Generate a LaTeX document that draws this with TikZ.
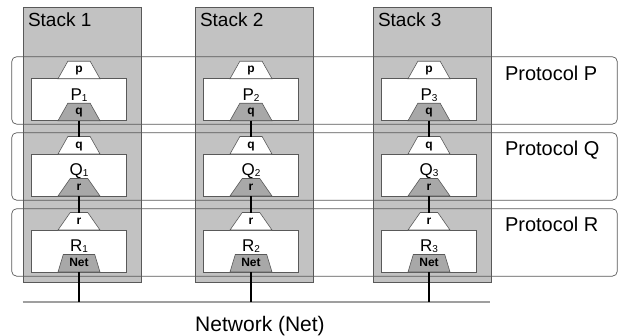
\documentclass[tikz,border=0pt]{standalone}
\usepackage{fontspec}
\setmainfont{Liberation Sans}
\usepackage{tikz}
\usetikzlibrary{shapes.geometric,positioning}
\definecolor{stackgray}{gray}{0.76}
\definecolor{portgray}{gray}{0.66}
\newcommand{\lname}[2]{#1\raisebox{-1pt}{\fontsize{10}{10}\selectfont #2}}

\begin{document}
\begin{tikzpicture}[x=1pt,y=-1pt]
	\tikzstyle{every node} = [inner sep=0, outer sep=0]
	\tikzstyle{stackbox} = [fill=stackgray, draw=black!65, line width=0.6pt]
	\tikzstyle{frame} = [draw=black!65, rounded corners=5pt, line width=0.7pt]
	\tikzstyle{layer} = [rectangle, draw=black!65, fill=white, line width=0.6pt, minimum width=95pt, text height=21.3pt, text depth=20.7pt, font=\fontsize{17}{17}\selectfont]
	\tikzstyle{port} = [trapezium, trapezium angle=72, trapezium stretches=true, minimum width=42pt, minimum height=17.5pt, draw=black!65, line width=0.6pt, font=\fontsize{12}{12}\selectfont\bfseries, text height=8pt, text depth=2pt]
	\tikzstyle{upport} = [port, fill=white]
	\tikzstyle{dnport} = [port, fill=portgray]
	\tikzstyle{title} = [anchor=base west, font=\fontsize{19}{19}\selectfont]
	\tikzstyle{wire} = [line width=1.5pt]
	\useasboundingbox (0,0) rectangle (618,335);
\foreach \i/\x in {1/79, 2/251, 3/429} {
	\path[stackbox] (\x-56, 7.3) rectangle (\x+62, 282.7);
	\node[title] (stack\i) at (\x-51, 26.7) {Stack \i};
}
\foreach \L/\y/\b in {P/56.7/80, Q/132.7/155.5, R/208.7/231} {
	\path[frame] (11.7, \y) rectangle (617.3, \y+67.5);
	\node[title, font=\fontsize{20}{20}\selectfont] (prot\L) at (505, \b) {Protocol \L};
}
\coordinate (netW) at (22.7, 302);
\coordinate (netE) at (490, 302);
	\path[draw, gray!75, line width=1.2pt] (netW) -- (netE);
\node[anchor=base, font=\fontsize{21}{21}\selectfont] (network) at (260, 331) {Network (Net)};
\foreach \i/\x in {1/79, 2/251, 3/429} {
	\foreach \L/\u/\d/\y in {P/p/q/78.7, Q/q/r/154, R/r/Net/230} {
		\node[layer, anchor=north] (\L\i) at (\x, \y) {\lname{\L}{\i}};
		\node[upport, above=0pt of \L\i] (\L\i-up) {\u};
		\node[dnport, above=0pt of \L\i.south] (\L\i-dn) {\d};
	}
	\coordinate (net\i) at (\x, 302);
	\path[draw, wire] (P\i-dn.south) -- (Q\i-up.north);
	\path[draw, wire] (Q\i-dn.south) -- (R\i-up.north);
	\path[draw, wire] (R\i-dn.south) -- (net\i);
}
\end{tikzpicture}
\end{document}
